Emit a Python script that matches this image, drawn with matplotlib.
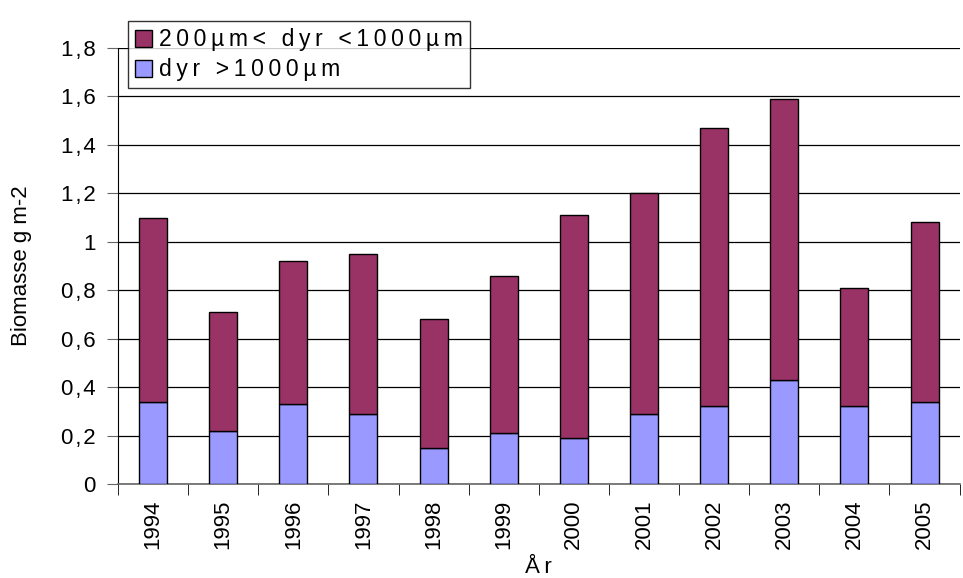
import numpy as np
import matplotlib
matplotlib.use('Agg')
import matplotlib.pyplot as plt

plt.rcParams['font.family'] = ['Liberation Sans', 'DejaVu Sans']

years = ['1994', '1995', '1996', '1997', '1998', '1999',
         '2000', '2001', '2002', '2003', '2004', '2005']
# total biomass (top of stacked bar) and the large-animal part
total = [1.10, 0.71, 0.92, 0.95, 0.68, 0.86, 1.11, 1.20, 1.47, 1.59, 0.81, 1.08]
large = [0.34, 0.22, 0.33, 0.29, 0.15, 0.21, 0.19, 0.29, 0.32, 0.43, 0.32, 0.34]
medium = [t - l for t, l in zip(total, large)]


def spaced(s, sep='\u2009'):
    # letter spacing like the old spreadsheet legend
    return sep.join(s)


fig = plt.figure(figsize=(9.63, 5.78), dpi=100)
ax = fig.add_axes([0.1225, 0.1626, 0.874, 0.7544])

x = np.arange(len(years))
w = 0.4
b1 = ax.bar(x, large, w, color='#9999ff', edgecolor='black', linewidth=1, zorder=3,
            label=spaced('dyr >1000µm'))
b2 = ax.bar(x, medium, w, bottom=large, color='#993366', edgecolor='black',
            linewidth=1, zorder=3, label=spaced('200µm< dyr <1000µm'))

ax.set_xlim(-0.5, len(years) - 0.5)
ax.set_ylim(0, 1.8)
yt = np.arange(0, 1.81, 0.2)
ax.set_yticks(yt)
ax.set_yticklabels([('%g' % round(v, 1)).replace('.', '\u200a,\u200a') for v in yt],
                   fontsize=16)
ax.yaxis.grid(True, color='black', linewidth=0.9, zorder=0)

ax.set_xticks(x)
ax.set_xticklabels(years, rotation=90, fontsize=16)
ax.set_xticks(np.arange(-0.5, len(years)), minor=True)
ax.tick_params(axis='x', which='major', length=0, pad=11)
ax.tick_params(axis='x', which='minor', length=8, direction='out', color='black')
ax.tick_params(axis='y', length=8, direction='out', color='#666666', pad=8)

for s in ['top', 'right']:
    ax.spines[s].set_visible(False)
ax.spines['left'].set_color('black')
ax.spines['bottom'].set_color('#666666')
ax.spines['bottom'].set_linewidth(1.2)

ax.set_ylabel('Biomasse g m-2', fontsize=16, labelpad=21)
ax.set_xlabel('Å\u2009r', fontsize=16, labelpad=6)

leg = ax.legend(handles=[b2, b1], loc='upper left', bbox_to_anchor=(0.133, 0.963),
                bbox_transform=fig.transFigure, fontsize=16.5, frameon=True,
                fancybox=False, edgecolor='black', handlelength=0.75,
                handleheight=0.75, handletextpad=0.3, borderpad=0.3,
                labelspacing=0.3, borderaxespad=0)
leg.get_frame().set_linewidth(1)
leg.set_zorder(5)

fig.savefig('out.png', dpi=100)
